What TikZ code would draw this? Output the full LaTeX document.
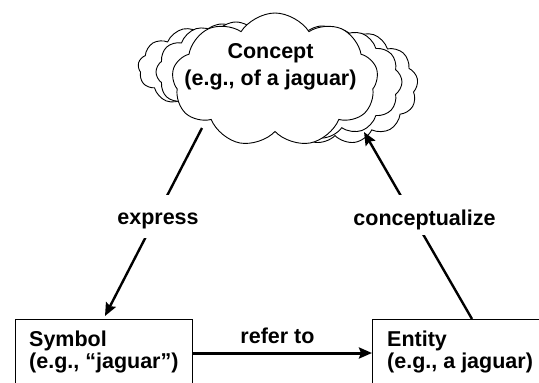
\documentclass[tikz,border=0pt]{standalone}
\usepackage{fontspec}
\setmainfont{Liberation Sans}
\usetikzlibrary{shapes.symbols,arrows.meta,calc}
\begin{document}
\begin{tikzpicture}[x=1pt,y=-1pt,
  every node/.style={font=\fontsize{21.5}{24}\selectfont\bfseries},
  puff/.style={cloud, cloud puffs=11, cloud puff arc=110, aspect=1.5, draw,
    fill=white, line width=0.9pt, inner sep=0pt},
  box/.style={draw, line width=1.3pt, rectangle, minimum height=100pt,
    inner sep=0pt, anchor=north west},
  link/.style={line width=2.4pt, -{Stealth[length=13pt,width=11pt,inset=2pt]}},
  tag/.style={fill=white, inner xsep=4pt, inner ysep=0pt, anchor=base}
]
\useasboundingbox (0,0) rectangle (539,383);

% stacked clouds behind the concept
\node[puff, cloud puffs=13, minimum width=168pt, minimum height=88pt]  (backl1) at (222,68) {};
\node[puff, cloud puffs=12, minimum width=160pt, minimum height=100pt] (backl2) at (236,72) {};
\node[puff, cloud puffs=13, minimum width=166pt, minimum height=116pt] (backr1) at (335,86) {};
\node[puff, cloud puffs=12, minimum width=160pt, minimum height=112pt] (backr2) at (322,82) {};
% front cloud
\node[puff, cloud puffs=9, cloud puff arc=115, minimum width=206pt, minimum height=134pt] (concept) at (275,80) {};
\node[anchor=base] (conceptname) at (270.5,58) {Concept};
\node[anchor=base] (conceptex) at (270.5,85) {(e.g., of a jaguar)};

% boxes
\node[box, minimum width=177pt] (symbol) at (15,319) {};
\node[anchor=base west, inner sep=0pt] (symbolname) at (29,346.5) {Symbol};
\node[anchor=base west, inner sep=0pt] (symbolex) at (29,368.5) {(e.g., “jaguar”)};

\node[box, minimum width=200pt] (entity) at (372,319) {};
\node[anchor=base west, inner sep=0pt] (entityname) at (387,346.5) {Entity};
\node[anchor=base west, inner sep=0pt] (entityex) at (387,368.5) {(e.g., a jaguar)};

% connector ends
\coordinate (exprstart) at (202,128);
\coordinate (exprend) at (105,316);
\coordinate (concstart) at ($(entity.north west)+(100,0)$);
\coordinate (concend) at (364,132);

\draw[link] (exprstart) -- (exprend);
\draw[link] (concstart) -- (concend);
\draw[link, line width=3pt] ($(symbol.north east)+(0,34)$) -- ($(entity.north west)+(0,34)$);

% labels
\node[tag, text height=29pt, text depth=14pt] (express) at (158,224) {express};
\node[tag, text height=30pt, text depth=10pt] (conceptualize) at (424.5,225) {conceptualize};
\node[anchor=base] (referto) at (277.5,343) {refer to};
\end{tikzpicture}
\end{document}
